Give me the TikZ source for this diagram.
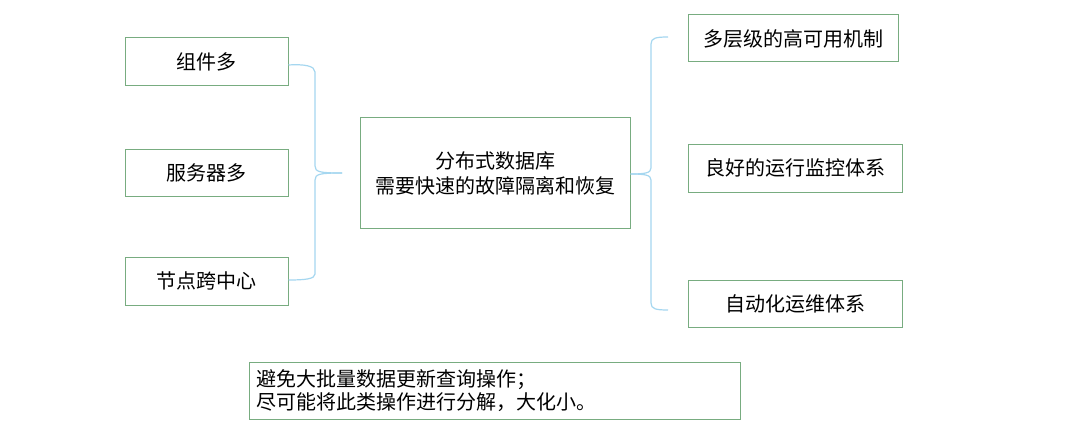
\documentclass[tikz,border=0pt]{standalone}
\usepackage{fontspec}
\setmainfont{Noto Sans CJK SC}
\definecolor{boxgreen}{RGB}{120,172,128}
\definecolor{bracecol}{RGB}{165,215,240}
\begin{document}
\begin{tikzpicture}[x=1pt,y=-1pt,
  box/.style={draw=boxgreen,line width=1pt,fill=white,inner sep=0pt,
    font=\fontsize{20}{25}\selectfont,align=center},
  brace/.style={draw=bracecol,line width=1.2pt}]
\useasboundingbox[fill=white] (0,0) rectangle (1080,444);
% left boxes
\node[box,minimum width=163pt,minimum height=48pt] (a) at (206.5,62) {组件多};
\node[box,minimum width=163pt,minimum height=47pt] (b) at (206.5,172.5) {服务器多};
\node[box,minimum width=163pt,minimum height=48pt] (c) at (206.5,281) {节点跨中心};
% center
\node[box,minimum width=270pt,minimum height=110pt] (m) at (495,173) {分布式数据库\\需要快速的故障隔离和恢复};
% right boxes
\node[box,minimum width=210pt,minimum height=47pt] (r1) at (793,38.5) {多层级的高可用机制};
\node[box,minimum width=214pt,minimum height=48pt] (r2) at (795,168) {良好的运行监控体系};
\node[box,minimum width=214pt,minimum height=47pt] (r3) at (795,303.5) {自动化运维体系};
% bottom note
\node[draw=boxgreen,line width=1pt,minimum width=491pt,minimum height=57pt,inner sep=0pt] (n) at (494.5,390.5) {};
\node[anchor=west,align=left,font=\fontsize{20}{23}\selectfont,inner sep=0pt] (nt) at ([xshift=8pt]n.west) {避免大批量数据更新查询操作；\\尽可能将此类操作进行分解，大化小。};
% left brace
\coordinate (lt) at (a.east |- 0,65);
\coordinate (lb) at (c.east |- 0,280);
\coordinate (ltip) at (342,173);
\draw[brace] (lt) .. controls (305,64) and (315,66) .. (315,72)
  -- (315,166) .. controls (315,172) and (320,173) .. (ltip);
\draw[brace] (lb) .. controls (305,280) and (315,279) .. (315,274)
  -- (315,180) .. controls (315,174) and (320,173) .. (ltip);
% right brace
\coordinate (rt) at (668,37);
\coordinate (rb) at (668,310);
\coordinate (rtip) at (m.east |- 0,174);
\draw[brace] (rt) .. controls (656,37) and (651,38) .. (651,44)
  -- (651,168) .. controls (651,173) and (645,174) .. (rtip);
\draw[brace] (rb) .. controls (656,310) and (651,309) .. (651,303)
  -- (651,180) .. controls (651,175) and (645,174) .. (rtip);
\end{tikzpicture}
\end{document}
